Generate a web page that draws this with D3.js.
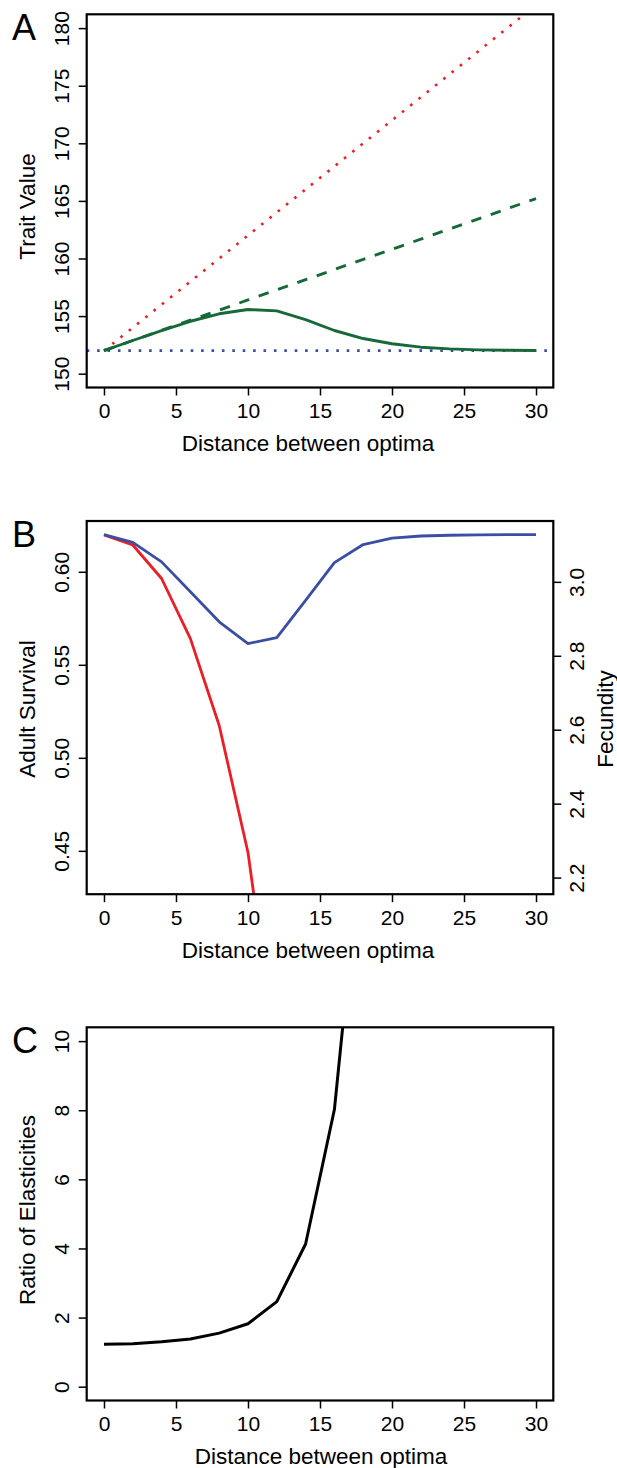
<!DOCTYPE html>
<html lang="en">
<head>
    <meta charset="UTF-8">
    <title>Trait value, vital rates and elasticities</title>
    <script src="https://d3js.org/d3.v7.min.js"></script>
    <style>
        body { margin: 0; background: #fff; }
        text { font-family: "Liberation Sans", Arial, Helvetica, sans-serif; }
    </style>
</head>
<body>
<script>
    const width  = 617;
    const height = 1468;

    // data
    const distance = [0,2,4,6,8,10,12,14,16,18,20,22,24,26,28,30];
    const traitRealised = [152,152.88,153.74,154.55,155.2,155.57,155.45,154.7,153.75,153.05,152.6,152.3,152.15,152.07,152.03,152.01];
    const traitDashed   = [152,152.88,153.76,154.64,155.52,156.4,157.28,158.16,159.04,159.92,160.8,161.68,162.56,163.44,164.32,165.2];
    const traitOptimum  = [152,154,156,158,160,162,164,166,168,170,172,174,176,178,180,182];
    const traitBaseline = 152;

    const survivalDist = [0,2,4,6,8,10,12];
    const survival     = [0.6198,0.6144,0.5964,0.5641,0.5174,0.4491,0.337];
    const fecundity    = [3.128,3.107,3.054,2.973,2.892,2.833,2.849,2.95,3.052,3.101,3.118,3.124,3.126,3.127,3.128,3.128];

    const ratioDist = [0,2,4,6,8,10,12,14,16,18];
    const ratio     = [1.23,1.24,1.3,1.38,1.55,1.82,2.46,4.13,8.02,16.3];

    const xTicks        = [0,5,10,15,20,25,30];
    const traitTicks    = [150,155,160,165,170,175,180];
    const survivalTicks = [0.45,0.50,0.55,0.60];
    const fecundTicks   = [2.2,2.4,2.6,2.8,3.0];
    const ratioTicks    = [0,2,4,6,8,10];

    const boxLeft = 86.7, boxRight = 553.3, boxH = 373.2;
    const tops = [14.3, 521, 1027.3];
    const green = "#17693a", red = "#ee1c24", blue = "#3a4fa3";

    const svg = d3.select("body").append("svg").attr("width", width).attr("height", height);

    const x = d3.scaleLinear().domain([-1.2, 31.2]).range([boxLeft, boxRight]);

    function makePanel(i, letter, yDomain, yTicks, yFmt, yTitle, yTitleY, xTitleX) {
        const top = tops[i], bottom = top + boxH;
        const y = d3.scaleLinear().domain(yDomain).range([bottom, top]);
        const g = svg.append("g");

        g.append("clipPath").attr("id", "clip" + i)
            .append("rect").attr("x", boxLeft).attr("y", top)
            .attr("width", boxRight - boxLeft).attr("height", boxH);

        const xa = g.append("g").attr("transform", "translate(0," + bottom + ")")
            .call(d3.axisBottom(x).tickValues(xTicks).tickSize(8).tickPadding(8).tickSizeOuter(0));
        styleAxis(xa);

        const ya = g.append("g").attr("transform", "translate(" + boxLeft + ",0)")
            .call(d3.axisLeft(y).tickValues(yTicks).tickFormat(yFmt).tickSize(8).tickSizeOuter(0));
        styleAxis(ya);
        ya.selectAll(".tick text")
            .attr("x", null).attr("dy", null).attr("text-anchor", "middle")
            .attr("transform", "translate(-17.7,0) rotate(-90)");

        g.append("text").attr("transform", "translate(35," + yTitleY + ") rotate(-90)")
            .attr("text-anchor", "middle").attr("font-size", 22.5).text(yTitle);
        g.append("text").attr("x", xTitleX).attr("y", bottom + 63.5)
            .attr("text-anchor", "middle").attr("font-size", 22.5).text("Distance between optima");
        g.append("text").attr("x", 12).attr("y", top + 26)
            .attr("font-size", 36).text(letter);

        const plot = g.append("g").attr("clip-path", "url(#clip" + i + ")");
        g.append("rect").attr("x", boxLeft).attr("y", top)
            .attr("width", boxRight - boxLeft).attr("height", boxH)
            .attr("fill", "none").attr("stroke", "#000").attr("stroke-width", 2.2);
        return {g, y, plot, top, bottom};
    }

    function styleAxis(a) {
        a.select(".domain").remove();
        a.attr("font-size", 21).attr("font-family", null);
        a.selectAll(".tick line").attr("stroke-width", 1.5);
        a.selectAll(".tick text").attr("fill", "#000");
    }

    function drawLine(plot, xs, ys, yScale, color, w, dash) {
        const line = d3.line().x((d, k) => x(xs[k])).y(d => yScale(d));
        plot.append("path").attr("d", line(ys))
            .attr("fill", "none").attr("stroke", color).attr("stroke-width", w)
            .attr("stroke-dasharray", dash || null).attr("stroke-linejoin", "round");
    }

    // Panel A
    const A = makePanel(0, "A", [148.8, 181.2], traitTicks, d3.format("d"), "Trait Value", 206.5, 308);
    drawLine(A.plot, x.domain(), [traitBaseline, traitBaseline], A.y, blue, 2.6, "2.6 7.8");
    drawLine(A.plot, distance, traitOptimum, A.y, red, 2.6, "2.6 8");
    drawLine(A.plot, distance, traitDashed, A.y, green, 2.9, "10.5 10");
    drawLine(A.plot, distance, traitRealised, A.y, green, 2.9);

    // Panel B
    const B = makePanel(1, "B", [0.4267, 0.6273], survivalTicks, d3.format(".2f"), "Adult Survival", 709, 308);
    const yFec = d3.scaleLinear().domain([2.155, 3.1646]).range([B.bottom, B.top]);
    const ra = B.g.append("g").attr("transform", "translate(" + boxRight + ",0)")
        .call(d3.axisRight(yFec).tickValues(fecundTicks).tickFormat(d3.format(".1f")).tickSize(8).tickSizeOuter(0));
    styleAxis(ra);
    ra.selectAll(".tick text")
        .attr("x", null).attr("dy", null).attr("text-anchor", "middle")
        .attr("transform", "translate(30.6,0) rotate(-90)");
    B.g.append("text").attr("transform", "translate(613,719) rotate(-90)")
        .attr("text-anchor", "middle").attr("font-size", 22.5).text("Fecundity");
    drawLine(B.plot, survivalDist, survival, B.y, red, 2.8);
    drawLine(B.plot, distance, fecundity, yFec, blue, 2.8);

    // Panel C
    const C = makePanel(2, "C", [-0.4, 10.4], ratioTicks, d3.format("d"), "Ratio of Elasticities", 1210, 321);
    drawLine(C.plot, ratioDist, ratio, C.y, "#000", 3);
</script>
</body>
</html>
